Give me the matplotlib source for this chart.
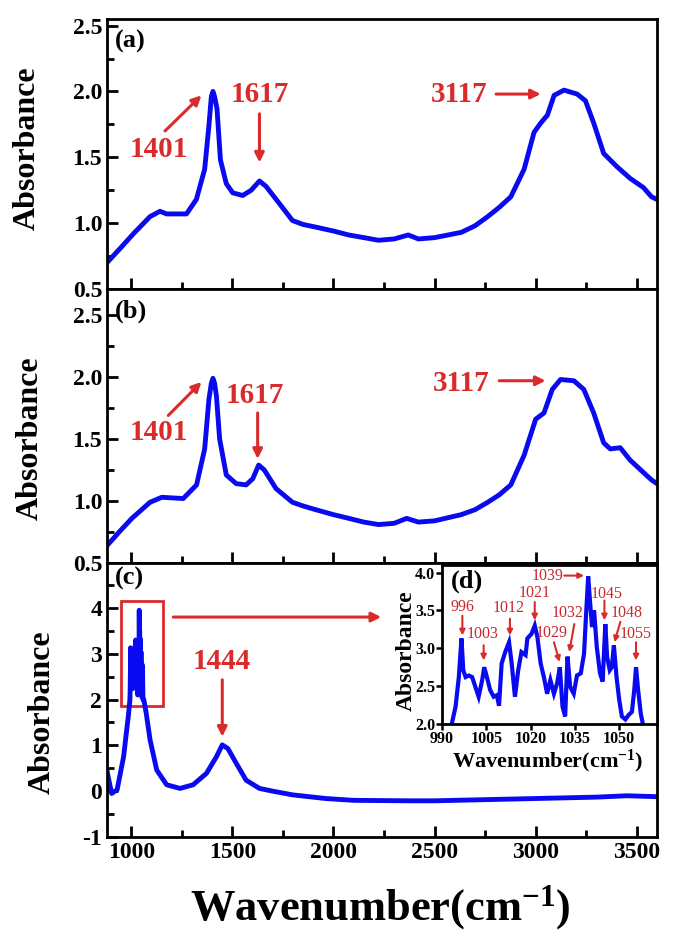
import matplotlib
matplotlib.use('Agg')
import matplotlib.pyplot as plt
from matplotlib.patches import Rectangle
from matplotlib.ticker import MultipleLocator

plt.rcParams['font.family'] = ['Liberation Serif', 'DejaVu Serif']
plt.rcParams['font.weight'] = 'bold'
plt.rcParams['mathtext.fontset'] = 'custom'
plt.rcParams['mathtext.rm'] = 'Liberation Serif:bold'
plt.rcParams['mathtext.it'] = 'Liberation Serif:bold'
plt.rcParams['mathtext.bf'] = 'Liberation Serif:bold'
plt.rcParams['axes.unicode_minus'] = False

# ---- spectrum (a)
a_wn = [880, 946, 1011, 1093, 1142, 1175, 1273, 1322, 1363, 1384, 1396, 1404, 1412,
        1424, 1441, 1470, 1502, 1551, 1593, 1634, 1666, 1732, 1797, 1850, 1912, 2000,
        2076, 2150, 2223, 2300, 2370, 2420, 2500, 2632, 2700, 2763, 2820, 2877, 2943,
        2992, 3025, 3058, 3091, 3140, 3205, 3246, 3287, 3336, 3401, 3467, 3533, 3573, 3600]
a_abs = [0.70, 0.81, 0.92, 1.05, 1.09, 1.07, 1.07, 1.18, 1.41, 1.74, 1.96, 2.00, 1.96,
         1.87, 1.48, 1.30, 1.23, 1.21, 1.25, 1.32, 1.28, 1.15, 1.02, 0.99, 0.97, 0.94,
         0.91, 0.89, 0.87, 0.88, 0.91, 0.88, 0.89, 0.93, 0.98, 1.05, 1.12, 1.20, 1.41,
         1.69, 1.76, 1.82, 1.97, 2.01, 1.98, 1.93, 1.76, 1.53, 1.43, 1.34, 1.27, 1.20, 1.18]

# ---- spectrum (b)
b_wn = [880, 940, 1003, 1093, 1151, 1257, 1323, 1363, 1384, 1396, 1404, 1412, 1421,
        1437, 1470, 1519, 1568, 1601, 1630, 1658, 1716, 1797, 1850, 1912, 2000, 2076,
        2150, 2223, 2300, 2362, 2420, 2500, 2632, 2700, 2763, 2820, 2877, 2943, 3000,
        3041, 3082, 3123, 3189, 3238, 3287, 3336, 3369, 3418, 3467, 3533, 3573, 3600]
b_abs = [0.64, 0.75, 0.86, 0.99, 1.03, 1.02, 1.13, 1.42, 1.82, 1.95, 1.99, 1.95, 1.85,
         1.50, 1.21, 1.14, 1.13, 1.18, 1.29, 1.25, 1.10, 0.99, 0.96, 0.93, 0.89, 0.86,
         0.83, 0.81, 0.82, 0.86, 0.83, 0.84, 0.89, 0.93, 0.99, 1.05, 1.13, 1.37, 1.66,
         1.71, 1.90, 1.98, 1.97, 1.90, 1.71, 1.47, 1.42, 1.43, 1.33, 1.23, 1.17, 1.14]

# ---- spectrum (c), fine region shared with inset (d)
d_wn = [993.3, 994.6, 995.7, 996.6, 997.2, 998.0, 999.1, 1000.2, 1001.3, 1002.4,
        1003.6, 1004.3, 1005.2, 1006.3, 1007.5, 1008.6, 1009.3, 1010.2, 1011.4, 1012.7,
        1013.6, 1014.7, 1015.8, 1016.9, 1018.3, 1018.9, 1020.3, 1021.4, 1022.3, 1023.4,
        1024.5, 1025.6, 1026.7, 1027.9, 1029.0, 1029.9, 1030.8, 1031.7, 1032.5, 1033.4,
        1034.6, 1035.7, 1037.0, 1038.1, 1038.8, 1039.5, 1040.1, 1040.8, 1041.5, 1042.4,
        1043.5, 1044.4, 1045.3, 1045.9, 1046.8, 1047.5, 1048.2, 1049.1, 1050.0, 1050.9,
        1052.1, 1053.2, 1054.3, 1055.1, 1055.7, 1056.4, 1057.3, 1058.0]
d_abs = [2.00, 2.23, 2.62, 3.13, 2.71, 2.62, 2.64, 2.62, 2.49, 2.36,
         2.58, 2.75, 2.62, 2.45, 2.36, 2.38, 2.24, 2.80, 2.95, 3.08,
         2.80, 2.36, 2.71, 2.95, 2.91, 3.13, 3.19, 3.30, 3.15, 2.80,
         2.62, 2.40, 2.58, 2.40, 2.54, 2.75, 2.23, 2.10, 2.89, 2.49,
         2.40, 2.64, 2.67, 2.93, 3.46, 3.95, 3.63, 3.28, 3.50, 3.02,
         2.67, 2.56, 3.32, 2.89, 2.71, 2.75, 3.04, 2.62, 2.32, 2.10,
         2.06, 2.12, 2.16, 2.45, 2.75, 2.45, 2.14, 2.00]

c_wn_low = [880, 886, 903, 930, 962, 987]
c_abs_low = [0.45, 0.31, -0.05, 0.03, 0.75, 1.70]
c_wn_high = [1062, 1074, 1093, 1126, 1175, 1241, 1306, 1372, 1421, 1450, 1478, 1519,
             1568, 1634, 1700, 1797, 1961, 2100, 2371, 2500, 2800, 3000, 3300, 3450, 3600]
c_abs_high = [2.00, 1.70, 1.12, 0.46, 0.14, 0.06, 0.14, 0.39, 0.75, 1.01, 0.93, 0.61,
              0.24, 0.06, 0.00, -0.08, -0.16, -0.20, -0.21, -0.21, -0.18, -0.16, -0.13,
              -0.10, -0.12]

c_wn = c_wn_low + d_wn + c_wn_high
c_abs = c_abs_low + d_abs + c_abs_high

d_peaks = ['996', '1003', '1012', '1021', '1029', '1032', '1039', '1045', '1048', '1055']

BLUE = '#0a0af0'
RED = '#d92b2b'

W, H = 675, 947
fig = plt.figure(figsize=(W / 100, H / 100), dpi=100)


def px_rect(x0, y0, x1, y1):
    return [x0 / W, 1 - y1 / H, (x1 - x0) / W, (y1 - y0) / H]


def style_main(ax, ylim, major, minor, labelbottom=False):
    ax.set_xlim(880, 3600)
    ax.set_ylim(*ylim)
    ax.xaxis.set_major_locator(MultipleLocator(500))
    ax.xaxis.set_minor_locator(MultipleLocator(250))
    ax.yaxis.set_major_locator(MultipleLocator(major))
    ax.yaxis.set_minor_locator(MultipleLocator(minor))
    ax.tick_params(which='both', direction='in', top=False, right=False,
                   width=2, labelsize=17, labelbottom=labelbottom)
    ax.tick_params(which='major', length=8)
    ax.tick_params(which='minor', length=5)
    for s in ax.spines.values():
        s.set_linewidth(2)


def arrow(ax, start, end, lw=2.2, ms=14):
    ax.annotate('', xy=end, xytext=start,
                arrowprops=dict(arrowstyle='-|>', color=RED, lw=lw,
                                mutation_scale=ms, shrinkA=0, shrinkB=0))


ax_a = fig.add_axes(px_rect(107, 19, 657, 289))
ax_b = fig.add_axes(px_rect(107, 289, 657, 563))
ax_c = fig.add_axes(px_rect(107, 563, 657, 837))

# (a)
ax_a.plot(a_wn, a_abs, color=BLUE, lw=3.5, solid_joinstyle='round')
style_main(ax_a, (0.5, 2.55), 0.5, 0.25)
ax_a.text(0.015, 0.96, '(a)', transform=ax_a.transAxes, fontsize=19, va='top')
ax_a.text(1134, 1.56, '1401', color=RED, fontsize=21, ha='center', va='center')
arrow(ax_a, (1167, 1.70), (1347, 1.97))
ax_a.text(1634, 1.98, '1617', color=RED, fontsize=21, ha='center', va='center')
arrow(ax_a, (1634, 1.83), (1634, 1.46))
ax_a.text(2624, 1.98, '3117', color=RED, fontsize=21, ha='center', va='center')
arrow(ax_a, (2804, 1.98), (3025, 1.98))

# (b)
ax_b.plot(b_wn, b_abs, color=BLUE, lw=3.5, solid_joinstyle='round')
style_main(ax_b, (0.5, 2.71), 0.5, 0.25)
ax_b.text(0.015, 0.96, '(b)', transform=ax_b.transAxes, fontsize=19, va='top')
ax_b.text(1134, 1.55, '1401', color=RED, fontsize=21, ha='center', va='center')
arrow(ax_b, (1183, 1.69), (1347, 1.96))
ax_b.text(1612, 1.85, '1617', color=RED, fontsize=21, ha='center', va='center')
arrow(ax_b, (1625, 1.71), (1625, 1.34))
ax_b.text(2632, 1.95, '3117', color=RED, fontsize=21, ha='center', va='center')
arrow(ax_b, (2820, 1.97), (3049, 1.97))

# (c)
ax_c.plot(c_wn, c_abs, color=BLUE, lw=3.5, solid_joinstyle='round')
style_main(ax_c, (-1, 4.98), 1, 0.5, labelbottom=True)
ax_c.text(0.015, 0.985, '(c)', transform=ax_c.transAxes, fontsize=19, va='top')
ax_c.text(1445, 2.83, '1444', color=RED, fontsize=21, ha='center', va='center')
arrow(ax_c, (1450, 2.43), (1450, 1.19))
ax_c.add_patch(Rectangle((951, 1.85), 1159 - 951, 4.16 - 1.85, fill=False,
                         edgecolor=RED, lw=2))
arrow(ax_c, (1208, 3.80), (2236, 3.80))

fig.text(27 / W, 1 - 148 / H, 'Absorbance', rotation=90, fontsize=23, ha='center', va='center')
fig.text(30 / W, 1 - 438 / H, 'Absorbance', rotation=90, fontsize=23, ha='center', va='center')
fig.text(42 / W, 1 - 712 / H, 'Absorbance', rotation=90, fontsize=23, ha='center', va='center')
fig.text(380 / W, 1 - 908 / H, 'Wavenumber(cm$^{-1}$)', fontsize=32, ha='center', va='center')

# (d) inset
ax_d = fig.add_axes(px_rect(442, 565, 657, 724))
ax_d.set_facecolor('white')
ax_d.plot(d_wn, d_abs, color=BLUE, lw=3.0, solid_joinstyle='miter')
ax_d.set_xlim(990, 1062.8)
ax_d.set_ylim(2.0, 4.1)
ax_d.xaxis.set_major_locator(MultipleLocator(15))
ax_d.yaxis.set_major_locator(MultipleLocator(0.5))
ax_d.tick_params(direction='out', length=4, width=1.8, labelsize=11.5, pad=1,
                 top=False, right=False)
for s in ax_d.spines.values():
    s.set_linewidth(2)
ax_d.text(0.116, 0.9, '(d)', transform=ax_d.transAxes, fontsize=19, ha='center', va='center')
fig.text(406 / W, 1 - 651 / H, 'Absorbance', rotation=90, fontsize=17, ha='center', va='center')
fig.text(548 / W, 1 - 761 / H, 'Wavenumber(cm$^{-1}$)', fontsize=16, ha='center', va='center')

d_text_pos = [(996.9, 3.55), (1003.6, 3.19), (1012.5, 3.53), (1021.4, 3.73), (1027.2, 3.20),
              (1032.5, 3.46), (1025.9, 3.96), (1045.9, 3.72), (1052.6, 3.46), (1055.4, 3.19)]
d_arrows = [((996.9, 3.43), (996.9, 3.17)), ((1004.1, 3.04), (1004.1, 2.84)),
            ((1013.0, 3.39), (1013.0, 3.17)), ((1021.4, 3.61), (1021.4, 3.37)),
            ((1027.9, 3.08), (1029.8, 2.82)), ((1034.8, 3.32), (1033.1, 2.95)),
            ((1031.4, 3.96), (1038.1, 3.96)), ((1045.0, 3.63), (1045.0, 3.37)),
            ((1050.4, 3.35), (1048.4, 3.08)), ((1055.7, 3.08), (1055.7, 2.84))]
for lab, (tx, ty), (st, en) in zip(d_peaks, d_text_pos, d_arrows):
    ax_d.text(tx, ty, lab, color='#c8282d', fontsize=11.5, ha='center', va='center',
              fontweight='normal')
    arrow(ax_d, st, en, lw=1.5, ms=8)

fig.savefig('out.png', dpi=100)
